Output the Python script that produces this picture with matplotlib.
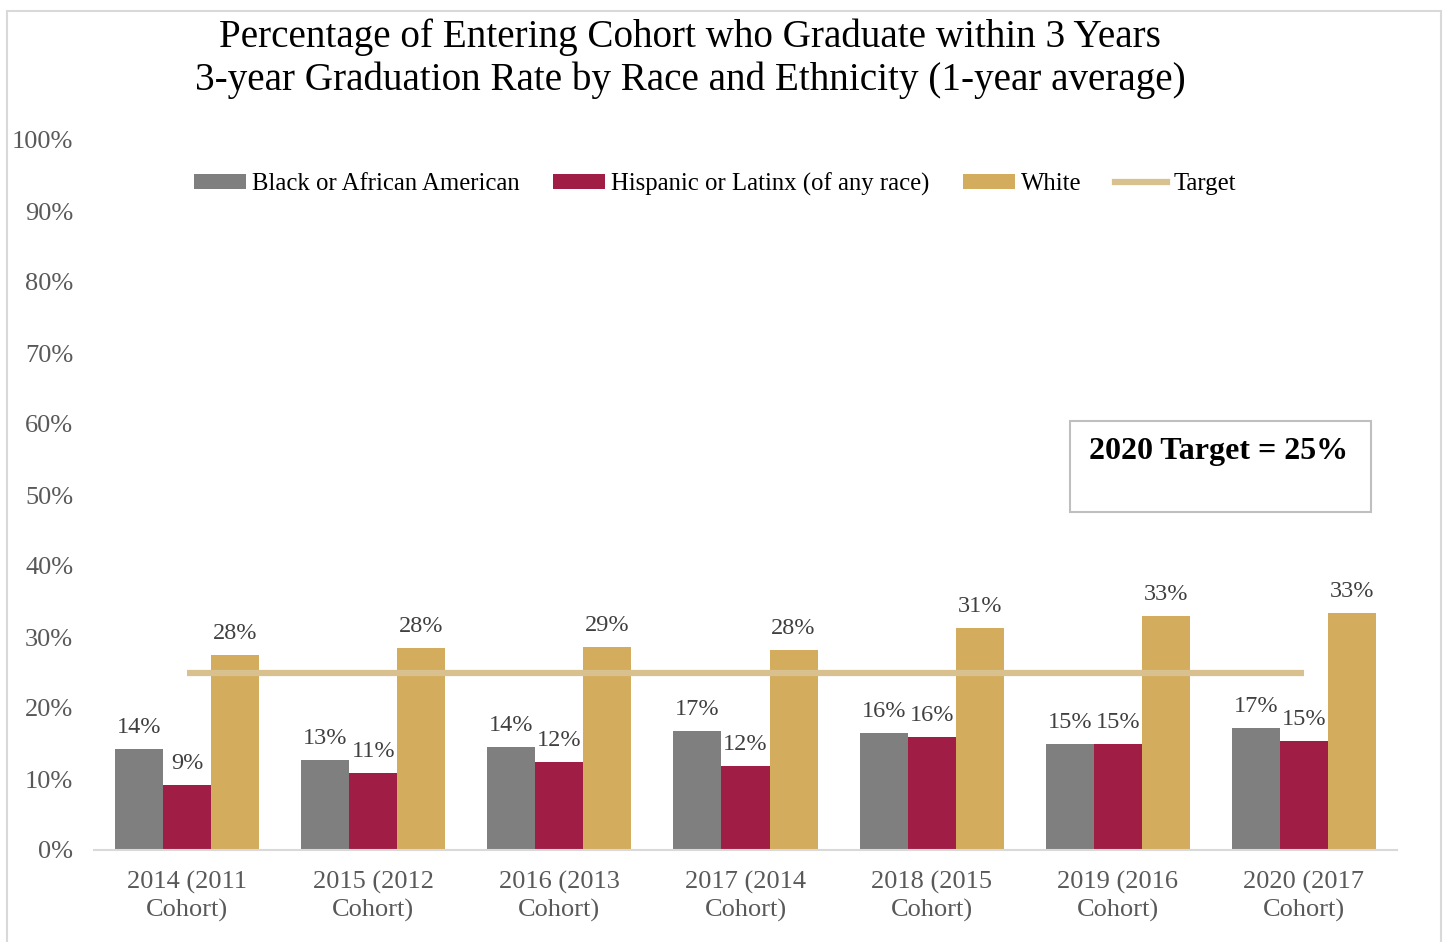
import matplotlib.pyplot as plt
import numpy as np
from matplotlib.patches import Patch, Rectangle
from matplotlib.lines import Line2D

plt.rcParams['font.family'] = ['Liberation Serif', 'DejaVu Serif']

categories = ['2014 (2011\nCohort)', '2015 (2012\nCohort)', '2016 (2013\nCohort)',
              '2017 (2014\nCohort)', '2018 (2015\nCohort)', '2019 (2016\nCohort)',
              '2020 (2017\nCohort)']
black = [14.2, 12.7, 14.5, 16.8, 16.5, 14.9, 17.2]
hispanic = [9.2, 10.8, 12.4, 11.8, 15.9, 14.9, 15.4]
white = [27.5, 28.4, 28.6, 28.2, 31.3, 33.0, 33.4]
target = 25
yticks = [0, 10, 20, 30, 40, 50, 60, 70, 80, 90, 100]

series = [
    ('Black or African American', black, '#7F7F7F'),
    ('Hispanic or Latinx (of any race)', hispanic, '#A01E45'),
    ('White', white, '#D3AC5E'),
]
target_color = '#D8C08F'
W, H = 1448, 942

fig = plt.figure(figsize=(W / 100, H / 100), dpi=100)
ax = fig.add_axes([94 / W, 1 - 850 / H, 1303 / W, 710 / H])

x = np.arange(len(categories))
bw = 0.258
fs = 17.5
for i, (name, vals, color) in enumerate(series):
    bars = ax.bar(x + (i - 1) * bw, vals, bw, color=color, label=name)
    for rect, v in zip(bars, vals):
        ax.annotate('{:.0f}%'.format(v),
                    (rect.get_x() + rect.get_width() / 2, rect.get_height()),
                    xytext=(0, 8), textcoords='offset points',
                    ha='center', va='bottom', fontsize=fs, color='#404040')

# target line across the category centres
ax.plot([x[0], x[-1]], [target, target], color=target_color, lw=4.5,
        solid_capstyle='butt', zorder=1)

ax.set_xlim(-0.5, len(categories) - 0.5)
ax.set_ylim(0, 100)
ax.set_yticks(yticks)
ax.set_yticklabels(['{}%'.format(t) for t in yticks])
ax.set_xticks(x)
ax.set_xticklabels(categories, linespacing=1.3)
ax.tick_params(axis='both', length=0, labelsize=19, labelcolor='#595959')
ax.tick_params(axis='y', pad=15)
ax.tick_params(axis='x', pad=15)
for side in ['top', 'right', 'left']:
    ax.spines[side].set_visible(False)
ax.spines['bottom'].set_color('#D9D9D9')
ax.spines['bottom'].set_linewidth(1.5)

fig.text(690 / W, 1 - 37 / H, 'Percentage of Entering Cohort who Graduate within 3 Years',
         ha='center', va='center', fontsize=28.2, color='black')
fig.text(690 / W, 1 - 80 / H, '3-year Graduation Rate by Race and Ethnicity (1-year average)',
         ha='center', va='center', fontsize=28.2, color='black')

handles = [Patch(facecolor=c, label=n) for n, _, c in series]
handles.append(Line2D([], [], color=target_color, lw=4.5, label='Target'))
fig.legend(handles=handles, loc='center', bbox_to_anchor=(715 / W, 1 - 184 / H),
           ncol=4, frameon=False, fontsize=17.8, handlelength=2.1, handleheight=0.6,
           handletextpad=0.25, columnspacing=1.35)

# callout box with the target
fig.add_artist(Rectangle((1070 / W, 1 - 512 / H), 301 / W, 91 / H,
                         transform=fig.transFigure, fill=False,
                         edgecolor='#BFBFBF', lw=1.5))
fig.text(1219 / W, 1 - 452 / H, '2020 Target = 25%', ha='center', va='center',
         fontsize=23, fontweight='bold', color='black')

# chart frame
fig.add_artist(Rectangle((7 / W, -0.05), 1434 / W, 1.05 - 11 / H,
                         transform=fig.transFigure, fill=False,
                         edgecolor='#D9D9D9', lw=1.5))

fig.savefig('out.png', dpi=100)
